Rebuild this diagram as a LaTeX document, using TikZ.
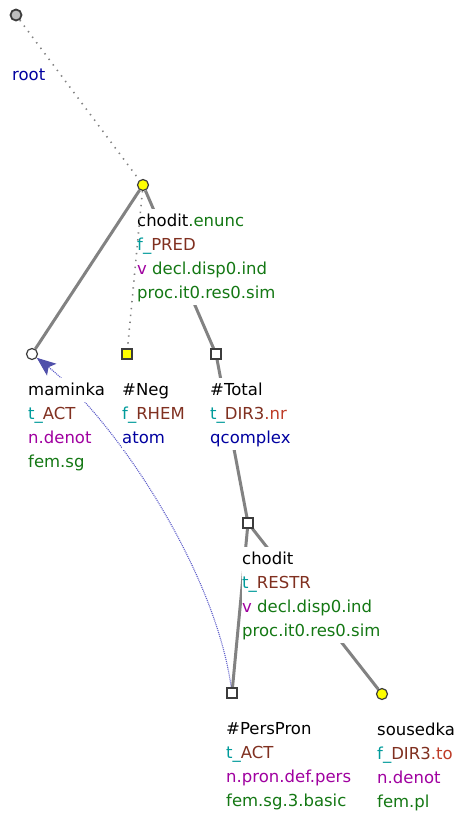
\documentclass[tikz,border=0pt]{standalone}
\usepackage{fontspec}
\setmainfont{DejaVu Sans}
\usetikzlibrary{arrows.meta}
\definecolor{cTeal}{RGB}{0,155,155}
\definecolor{cBrown}{RGB}{128,48,32}
\definecolor{cRed}{RGB}{190,60,40}
\definecolor{cPurple}{RGB}{160,0,160}
\definecolor{cGreen}{RGB}{20,120,20}
\definecolor{cNavy}{RGB}{0,0,160}
\definecolor{cEdge}{RGB}{130,130,130}
\definecolor{cBorder}{RGB}{60,60,60}
\definecolor{cYellow}{RGB}{255,255,0}
\definecolor{cRootFill}{RGB}{190,190,190}
\definecolor{cCoref}{RGB}{90,90,200}
\definecolor{cArrow}{RGB}{80,80,170}
\newcommand\tline[1]{{\setlength{\fboxsep}{0pt}\colorbox{white}{\rule[-7pt]{0pt}{24pt}#1}}}
\pgfdeclarelayer{bg}
\pgfsetlayers{bg,main}
\tikzset{
  circ/.style={circle, draw=cBorder, line width=1.2pt, minimum size=11pt, inner sep=0pt},
  sq/.style={rectangle, draw=cBorder, line width=1.2pt, minimum size=10pt, inner sep=0pt},
  ycirc/.style={circ, fill=cYellow},
  wcirc/.style={circ, fill=white},
  ysq/.style={sq, fill=cYellow},
  wsq/.style={sq, fill=white},
  rootnode/.style={circ, fill=cRootFill, line width=1.8pt, minimum size=11pt},
  lab/.style={anchor=north west, align=left, inner sep=0pt,
    font=\fontsize{16.5}{24}\selectfont},
  solidedge/.style={draw=cEdge, line width=3pt},
  dotedge/.style={draw=cEdge, line width=1.6pt, dash pattern=on 1.4pt off 5.5pt},
  coref/.style={draw=cCoref, line width=1.1pt, dash pattern=on 1pt off 1pt,
    -{Stealth[length=19pt,width=15pt,inset=4pt,fill=cArrow,color=cArrow]}},
}
\begin{document}
\begin{tikzpicture}[x=1pt,y=-1pt]
\useasboundingbox (0,0) rectangle (462,816);
% tree nodes
\node[rootnode] (root) at (16,15) {};
\node[ycirc] (ch1) at (143,185) {};
\node[wcirc] (mam) at (32,354) {};
\node[ysq] (neg) at (127,354) {};
\node[wsq] (tot) at (216,354) {};
\node[wsq] (ch2) at (248,523) {};
\node[wsq] (pp) at (232,693) {};
\node[ycirc] (sous) at (382,694) {};
% edges
\begin{pgfonlayer}{bg}
\draw[dotedge] (root) -- (ch1);
\draw[solidedge] (ch1) -- (mam);
\draw[solidedge] (ch1) -- (tot);
\draw[solidedge] (tot) -- (ch2);
\draw[solidedge] (ch2) -- (pp);
\draw[solidedge] (ch2) -- (sous);
\draw[coref] (pp) .. controls (215,570) and (115,420) .. (mam);
\end{pgfonlayer}
% labels
\node[lab] (troot) at (12,63) {\tline{\color{cNavy}root}};
\node[lab] (tch1) at (137,209) {\tline{chodit{\color{cGreen}.enunc}}\\
  \tline{{\color{cTeal}f\_}{\color{cBrown}PRED}}\\
  \tline{{\color{cPurple}v} {\color{cGreen}decl.disp0.ind}}\\
  \tline{{\color{cGreen}proc.it0.res0.sim}}};
\node[lab] (tmam) at (28,378) {\tline{maminka}\\
  \tline{{\color{cTeal}t\_}{\color{cBrown}ACT}}\\
  \tline{{\color{cPurple}n.denot}}\\
  \tline{{\color{cGreen}fem.sg}}};
\node[lab] (tneg) at (122,378) {\tline{\#Neg}\\
  \tline{{\color{cTeal}f\_}{\color{cBrown}RHEM}}\\
  \tline{{\color{cNavy}atom}}};
\node[lab] (ttot) at (210,378) {\tline{\#Total}\\
  \tline{{\color{cTeal}t\_}{\color{cBrown}DIR3}{\color{cRed}.nr}}\\
  \tline{{\color{cNavy}qcomplex}}};
\node[lab] (tch2) at (242,547) {\tline{chodit}\\
  \tline{{\color{cTeal}t\_}{\color{cBrown}RESTR}}\\
  \tline{{\color{cPurple}v} {\color{cGreen}decl.disp0.ind}}\\
  \tline{{\color{cGreen}proc.it0.res0.sim}}};
\node[lab] (tpp) at (226,717) {\tline{\#PersPron}\\
  \tline{{\color{cTeal}t\_}{\color{cBrown}ACT}}\\
  \tline{{\color{cPurple}n.pron.def.pers}}\\
  \tline{{\color{cGreen}fem.sg.3.basic}}};
\node[lab] (tsous) at (377,718) {\tline{sousedka}\\
  \tline{{\color{cTeal}f\_}{\color{cBrown}DIR3}{\color{cRed}.to}}\\
  \tline{{\color{cPurple}n.denot}}\\
  \tline{{\color{cGreen}fem.pl}}};
% dotted edge drawn over the labels
\draw[dotedge] (ch1) -- (neg);
\end{tikzpicture}
\end{document}
